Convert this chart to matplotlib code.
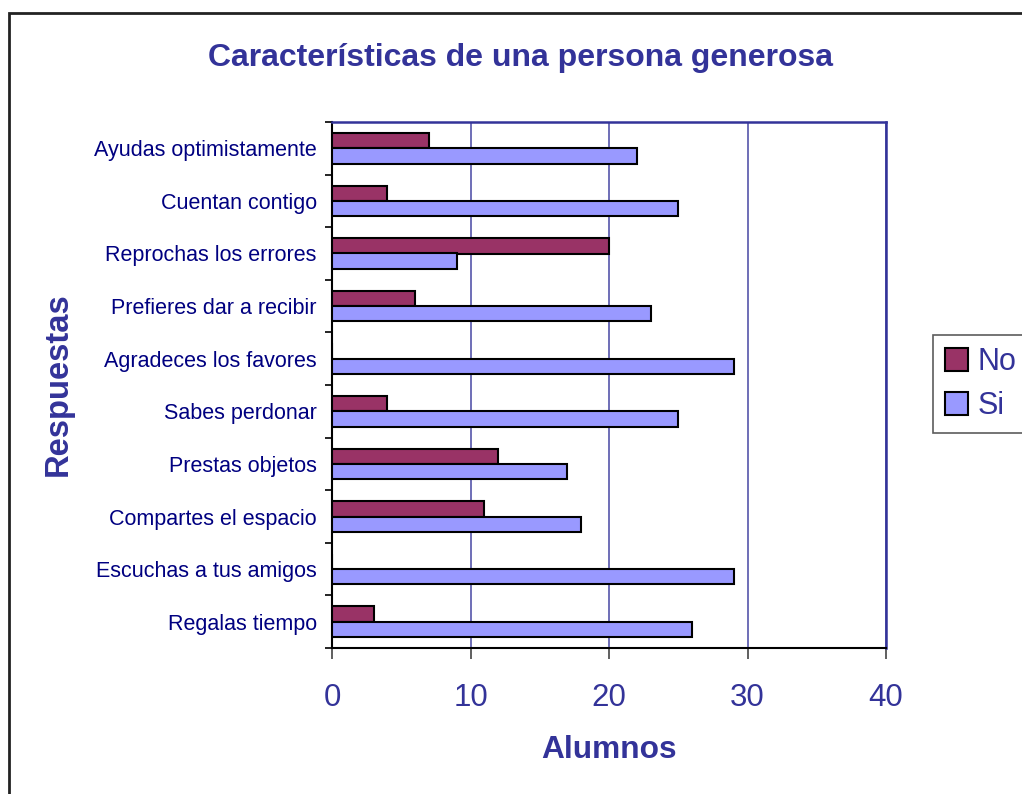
import matplotlib
matplotlib.use("Agg")
import matplotlib.pyplot as plt
import matplotlib.patches as mpatches
import numpy as np

plt.rcParams['font.family'] = ['Liberation Sans', 'DejaVu Sans']

# datos (de abajo hacia arriba)
respuestas = ['Regalas tiempo', 'Escuchas a tus amigos', 'Compartes el espacio',
              'Prestas objetos', 'Sabes perdonar', 'Agradeces los favores',
              'Prefieres dar a recibir', 'Reprochas los errores',
              'Cuentan contigo', 'Ayudas optimistamente']
no_vals = [3, 0, 11, 12, 4, 0, 6, 20, 4, 7]
si_vals = [26, 29, 18, 17, 25, 29, 23, 9, 25, 22]
x_ticks = [0, 10, 20, 30, 40]

navy = '#333399'
W, H = 1022, 794

fig = plt.figure(figsize=(W / 100, H / 100), dpi=100)
ax = fig.add_axes([332 / W, 1 - 648 / H, 554 / W, 526 / H])

y = np.arange(len(respuestas))
bh = 0.29
ax.barh(y + bh / 2, no_vals, height=bh, color='#993366', edgecolor='black',
        linewidth=1.5, label='No', zorder=3)
ax.barh(y - bh / 2, si_vals, height=bh, color='#9999FF', edgecolor='black',
        linewidth=1.5, label='Si', zorder=3)

ax.set_xlim(0, 40)
ax.set_ylim(-0.5, len(respuestas) - 0.5)
ax.set_xticks(x_ticks)
ax.set_xticklabels([str(v) for v in x_ticks])
ax.grid(axis='x', color='#5555AA', linewidth=1.2, zorder=0)
ax.set_axisbelow(True)

ax.set_yticks(y)
ax.set_yticklabels(respuestas)
ax.set_yticks(np.arange(-0.5, len(respuestas)), minor=True)
ax.tick_params(axis='y', which='major', length=0, pad=11, labelsize=15.5, labelcolor='#000080')
ax.tick_params(axis='y', which='minor', length=5, width=1.2, direction='out', color='black')
ax.tick_params(axis='x', length=8, width=1.2, direction='out', pad=17,
               labelsize=22.5, labelcolor=navy, color='#444444')

for s in ['left', 'bottom']:
    ax.spines[s].set_color('black')
    ax.spines[s].set_linewidth(1.5)
for s in ['top', 'right']:
    ax.spines[s].set_color(navy)
    ax.spines[s].set_linewidth(1.8)

fig.text(520 / W, 1 - 58 / H, 'Características de una persona generosa',
         ha='center', va='center', fontsize=23, fontweight='bold', color=navy)
fig.text(609 / W, 1 - 750 / H, 'Alumnos', ha='center', va='center',
         fontsize=22.8, fontweight='bold', color=navy)
fig.text(58 / W, 1 - 384 / H, 'Respuestas', ha='center', va='center', rotation=90,
         fontsize=23.6, fontweight='bold', color=navy)

leg = fig.legend(loc='upper left', bbox_to_anchor=(933 / W, 1 - 335 / H),
                 fontsize=22, frameon=True, fancybox=False, shadow=False,
                 borderpad=0.4, labelspacing=0.45, handlelength=0.75, handleheight=0.75,
                 handletextpad=0.3, borderaxespad=0)
leg.get_frame().set_edgecolor('#333333')
leg.get_frame().set_linewidth(1.2)
for t in leg.get_texts():
    t.set_color(navy)

border = mpatches.Rectangle((8.5 / W, -0.1), 1.2, 1.1 - 13 / H, transform=fig.transFigure,
                            fill=False, edgecolor='#222222', linewidth=2, clip_on=False)
fig.patches.append(border)

fig.savefig('out.png', dpi=100)
